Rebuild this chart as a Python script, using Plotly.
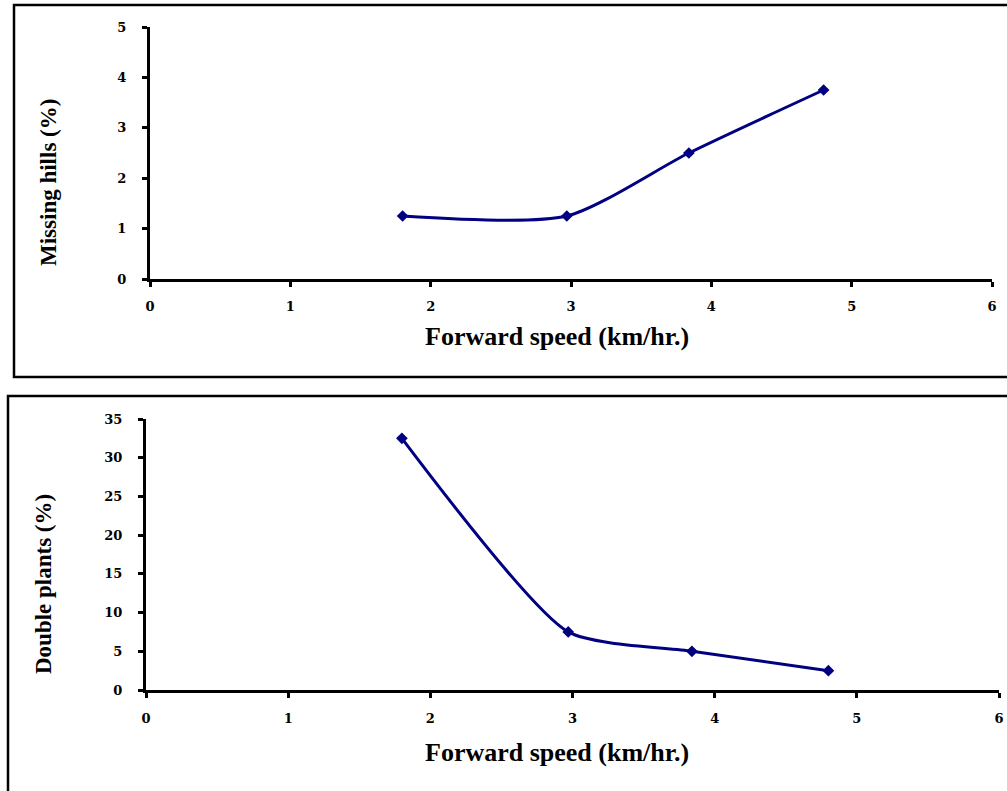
import plotly.graph_objects as go

# ---- data ----
speed = [1.8, 2.97, 3.84, 4.8]
missing_hills = [1.25, 1.25, 2.5, 3.75]
double_plants = [32.5, 7.5, 5.0, 2.5]

x_ticks = [0, 1, 2, 3, 4, 5, 6]
y1_ticks = [0, 1, 2, 3, 4, 5]
y2_ticks = [0, 5, 10, 15, 20, 25, 30, 35]

x_title = "Forward speed (km/hr.)"
y1_title = "Missing hills (%)"
y2_title = "Double plants (%)"

W, H = 1007, 791
NAVY = "#000080"


def px(p):
    return p / W


def py(p):
    return 1 - p / H


fig = go.Figure()

fig.add_trace(go.Scatter(
    x=speed, y=missing_hills, mode="lines+markers",
    line=dict(color=NAVY, width=3, shape="spline", smoothing=0.7),
    marker=dict(symbol="diamond", size=9, color=NAVY),
    xaxis="x", yaxis="y", showlegend=False, cliponaxis=False,
))
fig.add_trace(go.Scatter(
    x=speed, y=double_plants, mode="lines+markers",
    line=dict(color=NAVY, width=3, shape="spline", smoothing=0.6),
    marker=dict(symbol="diamond", size=9, color=NAVY),
    xaxis="x2", yaxis="y2", showlegend=False, cliponaxis=False,
))

tickfont = dict(family="DejaVu Serif", size=13, color="black", weight="bold")
axis_common = dict(
    showline=True, linecolor="black", linewidth=3,
    ticks="outside", ticklen=5, tickwidth=3, tickcolor="black",
    showgrid=False, zeroline=False, tickfont=tickfont, automargin=False,
)

fig.update_layout(
    width=W, height=H,
    margin=dict(l=0, r=0, t=0, b=0),
    paper_bgcolor="white", plot_bgcolor="white",
    xaxis=dict(domain=[px(150), px(992)], range=[0, 6], tickvals=x_ticks,
               anchor="y", ticklabelstandoff=8, **axis_common),
    yaxis=dict(domain=[py(279), py(27)], range=[0, 5], tickvals=y1_ticks,
               anchor="x", ticklabelstandoff=13, **axis_common),
    xaxis2=dict(domain=[px(146), px(999)], range=[0, 6], tickvals=x_ticks,
                anchor="y2", ticklabelstandoff=9, **axis_common),
    yaxis2=dict(domain=[py(690), py(419)], range=[0, 35], tickvals=y2_ticks,
                anchor="x2", ticklabelstandoff=13, **axis_common),
)

xt_font = dict(family="Liberation Serif", size=26, color="black", weight="bold")
yt_font = dict(family="Liberation Serif", size=23, color="black", weight="bold")

annotations = [
    dict(text=x_title, x=px(557), y=py(337), xref="paper", yref="paper",
         showarrow=False, font=xt_font, xanchor="center", yanchor="middle"),
    dict(text=y1_title, x=px(49), y=py(183), xref="paper", yref="paper",
         showarrow=False, font=yt_font, textangle=-90,
         xanchor="center", yanchor="middle"),
    dict(text=x_title, x=px(557), y=py(752), xref="paper", yref="paper",
         showarrow=False, font=xt_font, xanchor="center", yanchor="middle"),
    dict(text=y2_title, x=px(43), y=py(584), xref="paper", yref="paper",
         showarrow=False, font=yt_font, textangle=-90,
         xanchor="center", yanchor="middle"),
]
fig.update_layout(annotations=annotations)

shapes = [
    dict(type="rect", xref="paper", yref="paper",
         x0=px(14), x1=px(1015), y0=py(377), y1=py(5),
         line=dict(color="black", width=2.5), fillcolor="rgba(0,0,0,0)"),
    dict(type="rect", xref="paper", yref="paper",
         x0=px(8), x1=px(1015), y0=py(800), y1=py(396),
         line=dict(color="black", width=2.5), fillcolor="rgba(0,0,0,0)"),
]
fig.update_layout(shapes=shapes)

fig.write_html(
    "out.html",
    config={"displayModeBar": False},
    post_script="document.body.style.margin='0px';document.body.style.overflow='hidden';",
)
